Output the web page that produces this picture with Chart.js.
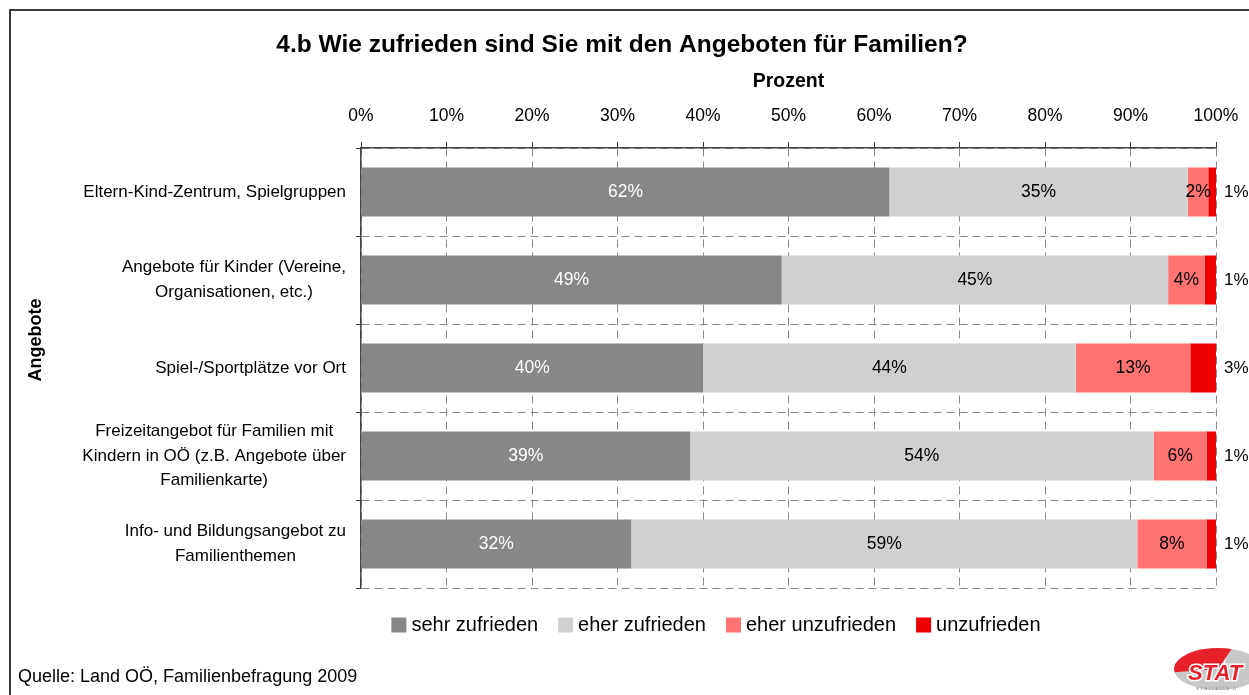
<!DOCTYPE html>
<html><head><meta charset="utf-8">
<script src="https://cdn.jsdelivr.net/npm/chart.js@4.4.0/dist/chart.umd.min.js"></script>
<style>html,body{margin:0;padding:0;background:#fff;overflow:hidden}</style>
</head><body><canvas id="c" width="1249" height="695"></canvas>
<script>
const titleText = "4.b Wie zufrieden sind Sie mit den Angeboten für Familien?";
const xAxisTitle = "Prozent";
const yAxisTitle = "Angebote";
const sourceText = "Quelle: Land OÖ, Familienbefragung 2009";
const categories = [
  ["Eltern-Kind-Zentrum, Spielgruppen"],
  ["Angebote für Kinder (Vereine,", "Organisationen, etc.)"],
  ["Spiel-/Sportplätze vor Ort"],
  ["Freizeitangebot für Familien mit", "Kindern in OÖ (z.B. Angebote über", "Familienkarte)"],
  ["Info- und Bildungsangebot zu", "Familienthemen"]
];
const seriesNames = ["sehr zufrieden", "eher zufrieden", "eher unzufrieden", "unzufrieden"];
const sehrZufrieden   = [61.8, 49.2, 40.0, 38.5, 31.6];
const eherZufrieden   = [34.9, 45.2, 43.6, 54.2, 59.2];
const eherUnzufrieden = [2.4, 4.3, 13.4, 6.2, 8.1];
const unzufrieden     = [0.9, 1.3, 3.0, 1.1, 1.1];
const tickStep = 10;

const seriesColors = ['#878787', '#D0D0D0', '#FF7373', '#EE0000'];
const FONT = '"Liberation Sans", Arial, sans-serif';

const annot = {
  id: 'annot',
  afterDatasetsDraw(chart) {
    const ctx = chart.ctx;
    ctx.save();
    ctx.textBaseline = 'middle';
    chart.data.datasets.forEach((ds, di) => {
      const meta = chart.getDatasetMeta(di);
      meta.data.forEach((bar, i) => {
        const v = ds.data[i];
        const txt = Math.round(v) + '%';
        if (di === 3) {
          ctx.font = '17px ' + FONT;
          ctx.textAlign = 'left';
          ctx.fillStyle = '#000';
          ctx.fillText(txt, bar.x + 8, bar.y);
        } else {
          ctx.font = '17.5px ' + FONT;
          ctx.textAlign = 'center';
          ctx.fillStyle = di === 0 ? '#fff' : '#000';
          ctx.fillText(txt, (bar.x + bar.base) / 2, bar.y);
        }
      });
    });
    ctx.restore();
  },
  afterDraw(chart) {
    const ctx = chart.ctx;
    const ca = chart.chartArea;
    ctx.save();
    // frame
    ctx.strokeStyle = '#3a3a3a'; ctx.lineWidth = 2;
    ctx.beginPath(); ctx.moveTo(10, 695); ctx.lineTo(10, 10); ctx.lineTo(1249, 10); ctx.stroke();
    // title
    ctx.fillStyle = '#000'; ctx.textAlign = 'center'; ctx.textBaseline = 'middle';
    ctx.font = 'bold 24.5px ' + FONT;
    ctx.fillText(titleText, 622, 45);
    ctx.font = 'bold 19.5px ' + FONT;
    ctx.fillText(xAxisTitle, (ca.left + ca.right) / 2, 82);
    ctx.font = 'bold 18px ' + FONT;
    ctx.save(); ctx.translate(36, 340); ctx.rotate(-Math.PI / 2);
    ctx.fillText(yAxisTitle, 0, 0); ctx.restore();
    // category labels
    const ys = chart.scales.y;
    ctx.font = '17px ' + FONT;
    categories.forEach((lines, i) => {
      const cy = ys.getPixelForTick(i);
      const maxW = Math.max(...lines.map(l => ctx.measureText(l).width));
      const cx = ca.left - 15 - maxW / 2;
      const lh = 24.5;
      lines.forEach((l, j) => ctx.fillText(l, cx, cy + (j - (lines.length - 1) / 2) * lh));
    });
    // legend
    ctx.font = '20px ' + FONT;
    const box = 15, gapText = 5, gapItem = 20;
    const widths = seriesNames.map(n => ctx.measureText(n).width);
    let total = 0;
    widths.forEach((w, i) => { total += box + gapText + w + (i < widths.length - 1 ? gapItem : 0); });
    let x = 716 - total / 2;
    const ly = 625;
    ctx.textAlign = 'left';
    seriesNames.forEach((n, i) => {
      ctx.fillStyle = chart.data.datasets[i].backgroundColor;
      ctx.fillRect(x, ly - 7.5, box, 15);
      ctx.fillStyle = '#000';
      ctx.fillText(n, x + box + gapText, ly);
      x += box + gapText + widths[i] + gapItem;
    });
    // source
    ctx.font = '18px ' + FONT;
    ctx.fillText(sourceText, 18, 677);
    // logo (approximation)
    ctx.save();
    ctx.beginPath(); ctx.ellipse(1218, 669, 44, 21, 0, 0, Math.PI * 2);
    ctx.fillStyle = '#c8c8c8'; ctx.fill();
    ctx.beginPath(); ctx.moveTo(1218, 669); ctx.ellipse(1218, 669, 44, 21, 0, Math.PI * 0.95, Math.PI * 1.6);
    ctx.closePath(); ctx.fillStyle = '#e8202a'; ctx.fill();
    ctx.font = 'italic bold 22px ' + FONT;
    ctx.fillStyle = '#e8202a'; ctx.strokeStyle = '#fff'; ctx.lineWidth = 3;
    ctx.strokeText('STAT', 1188, 674); ctx.fillText('STAT', 1188, 674);
    ctx.font = '6px ' + FONT; ctx.fillStyle = '#888';
    ctx.fillText('s t a t i s t i k  ö', 1196, 688);
    ctx.restore();
    ctx.restore();
  }
};

new Chart(document.getElementById('c'), {
  type: 'bar',
  data: {
    labels: categories,
    datasets: [
      { label: seriesNames[0], data: sehrZufrieden,   backgroundColor: seriesColors[0] },
      { label: seriesNames[1], data: eherZufrieden,   backgroundColor: seriesColors[1] },
      { label: seriesNames[2], data: eherUnzufrieden, backgroundColor: seriesColors[2] },
      { label: seriesNames[3], data: unzufrieden,     backgroundColor: seriesColors[3] }
    ]
  },
  options: {
    indexAxis: 'y',
    responsive: false,
    animation: false,
    events: [],
    barPercentage: 0.557,
    categoryPercentage: 1,
    layout: { padding: { left: 351, right: 33, top: 108, bottom: 107 } },
    plugins: { legend: { display: false }, title: { display: false }, tooltip: { enabled: false } },
    scales: {
      x: {
        position: 'top', stacked: true, min: 0, max: 100,
        afterFit(s) { s.height = 40; s.paddingLeft = 0; s.paddingRight = 0; },
        ticks: { stepSize: tickStep, callback: v => v + '%', color: '#000', font: { size: 17.5, family: FONT }, padding: 15, maxRotation: 0 },
        grid: { color: '#8a8a8a', lineWidth: 1, tickLength: 6, tickColor: '#333', tickBorderDash: [] },
        border: { display: true, color: '#444', width: 1.5, dash: [8, 5] }
      },
      y: {
        stacked: true,
        afterFit(s) { s.width = 10; },
        ticks: { display: false },
        grid: { offset: true, color: '#8a8a8a', lineWidth: 1, tickLength: 5, tickColor: '#333', tickBorderDash: [] },
        border: { display: true, color: '#444', width: 1.5, dash: [8, 5] }
      }
    }
  },
  plugins: [annot]
});
</script>
</body></html>
